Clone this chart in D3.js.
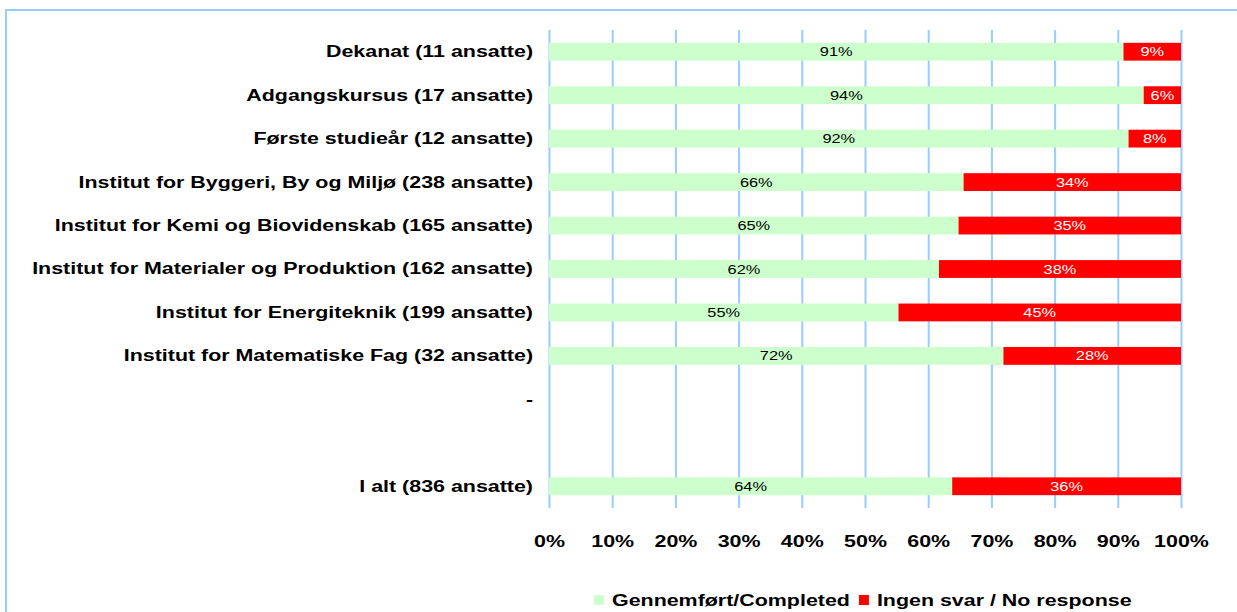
<!DOCTYPE html>
<html>
<head>
<meta charset="utf-8">
<script src="https://cdn.jsdelivr.net/npm/d3@7"></script>
<style>
  body { margin: 0; background: #fff; }
  svg { display: block; font-family: "Liberation Sans", Arial, sans-serif; }
</style>
</head>
<body>
<div id="chart"></div>
<script>
// row labels, top to bottom (two empty spacer rows before the total)
var categories = [
  "Dekanat (11 ansatte)",
  "Adgangskursus (17 ansatte)",
  "Første studieår (12 ansatte)",
  "Institut for Byggeri, By og Miljø (238 ansatte)",
  "Institut for Kemi og Biovidenskab (165 ansatte)",
  "Institut for Materialer og Produktion (162 ansatte)",
  "Institut for Energiteknik (199 ansatte)",
  "Institut for Matematiske Fag (32 ansatte)",
  "-",
  "",
  "I alt (836 ansatte)"
]
var completed = [90.9, 94.1, 91.7, 65.6, 64.8, 61.7, 55.3, 71.9, null, null, 63.8]
var noResponse = [9.1, 5.9, 8.3, 34.4, 35.2, 38.3, 44.7, 28.1, null, null, 36.2]
var seriesNames = ["Gennemført/Completed", "Ingen svar / No response"]
var seriesColors = ["#ccffcc", "#ff0000"]
var tickValues = [0, 10, 20, 30, 40, 50, 60, 70, 80, 90, 100]

var W = 1237, H = 612
var plot = {left: 549, right: 1181, top: 30, bottom: 508}
var K = 1.26 // text in the original is drawn wider than normal

// widen a text element horizontally around its own x
function stretch(sel) {
  sel.each(function() {
    var t = d3.select(this)
    var x0 = +t.attr("x") || 0
    t.attr("transform", "translate(" + x0 + ",0) scale(" + K + ",1) translate(" + (-x0) + ",0)")
  })
}

var svg = d3.select("#chart").append("svg")
  .attr("width", W)
  .attr("height", H)

// outer frame (runs off the right and bottom edges)
svg.append("rect")
  .attr("x", 6).attr("y", 10)
  .attr("width", W + 20).attr("height", H + 20)
  .attr("fill", "none")
  .attr("stroke", "#99ccff")
  .attr("stroke-width", 2)

var x = d3.scaleLinear().domain([0, 100]).range([plot.left, plot.right])

var y = d3.scaleBand()
  .domain(d3.range(categories.length))
  .range([plot.top, plot.bottom])
  .paddingInner(0.59)
  .paddingOuter(0.295)

// gridlines
var grid = svg.append("g")
  .attr("transform", "translate(0," + plot.bottom + ")")
  .call(d3.axisBottom(x).tickValues(tickValues).tickSize(-(plot.bottom - plot.top)).tickFormat(""))
grid.select(".domain").remove()
grid.selectAll(".tick line").attr("stroke", "#99ccff").attr("stroke-width", 2)

// bars
var rows = categories.map(function(c, i) {
  return {i: i, a: completed[i], b: noResponse[i]}
}).filter(function(d) { return d.a != null })

var g = svg.append("g")
rows.forEach(function(d) {
  var segs = [
    {x0: 0, x1: d.a, v: d.a, fill: seriesColors[0], text: "#000"},
    {x0: d.a, x1: d.a + d.b, v: d.b, fill: seriesColors[1], text: "#fff"}
  ]
  segs.forEach(function(s) {
    g.append("rect")
      .attr("x", x(s.x0))
      .attr("y", y(d.i))
      .attr("width", x(s.x1) - x(s.x0))
      .attr("height", y.bandwidth())
      .attr("fill", s.fill)
    g.append("text")
      .attr("x", (x(s.x0) + x(s.x1)) / 2)
      .attr("y", y(d.i) + y.bandwidth() / 2)
      .attr("dy", "0.35em")
      .attr("text-anchor", "middle")
      .attr("font-size", 13)
      .attr("fill", s.text)
      .text(Math.round(s.v) + "%")
      .call(stretch)
  })
})

// x axis labels
var xAxis = svg.append("g")
  .attr("transform", "translate(0," + plot.bottom + ")")
  .call(d3.axisBottom(x).tickValues(tickValues).tickSize(0).tickPadding(27)
    .tickFormat(function(d) { return d + "%" }))
xAxis.select(".domain").remove()
xAxis.selectAll("text")
  .attr("font-family", "Liberation Sans, Arial, sans-serif")
  .attr("font-size", 17)
  .attr("font-weight", "bold")
  .attr("fill", "#000")
  .call(stretch)

// y axis labels
var yAxis = svg.append("g")
  .attr("transform", "translate(" + plot.left + ",0)")
  .call(d3.axisLeft(y).tickSize(0).tickPadding(16)
    .tickFormat(function(i) { return categories[i] }))
yAxis.select(".domain").remove()
yAxis.selectAll("text")
  .attr("font-family", "Liberation Sans, Arial, sans-serif")
  .attr("font-size", 17)
  .attr("font-weight", "bold")
  .attr("fill", "#000")
  .call(stretch)

// legend
var legend = svg.append("g").attr("transform", "translate(594,600)")
var lx = 0
seriesNames.forEach(function(name, i) {
  legend.append("rect")
    .attr("x", lx).attr("y", -5)
    .attr("width", 10).attr("height", 10)
    .attr("fill", seriesColors[i])
  var t = legend.append("text")
    .attr("x", lx + 18)
    .attr("dy", "0.35em")
    .attr("font-size", 17)
    .attr("font-weight", "bold")
    .text(name)
    .call(stretch)
  lx += 18 + t.node().getComputedTextLength() * K + 9
})
</script>
</body>
</html>
